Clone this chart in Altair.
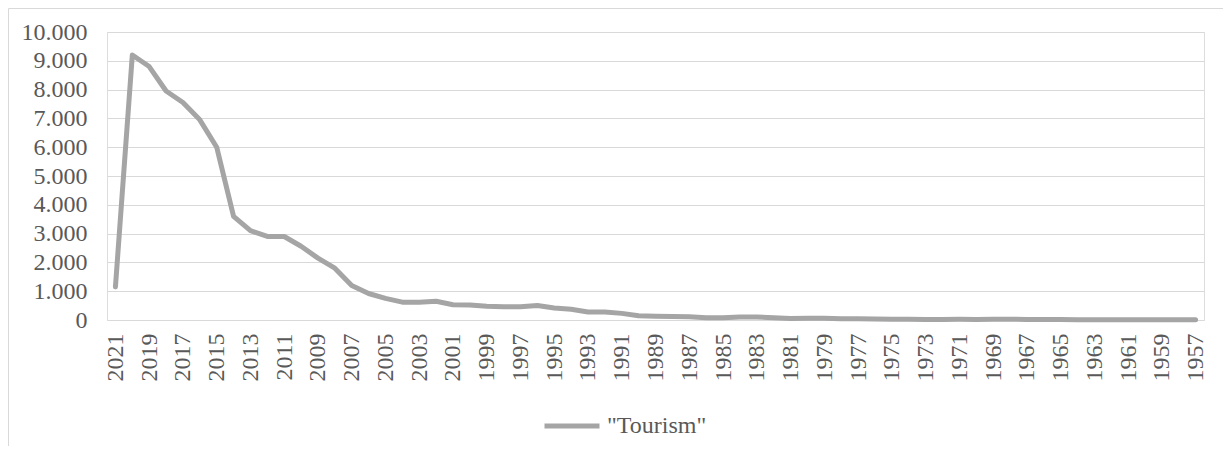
import altair as alt
import pandas as pd

years = [2021, 2020, 2019, 2018, 2017, 2016, 2015, 2014, 2013, 2012,
         2011, 2010, 2009, 2008, 2007, 2006, 2005, 2004, 2003, 2002,
         2001, 2000, 1999, 1998, 1997, 1996, 1995, 1994, 1993, 1992,
         1991, 1990, 1989, 1988, 1987, 1986, 1985, 1984, 1983, 1982,
         1981, 1980, 1979, 1978, 1977, 1976, 1975, 1974, 1973, 1972,
         1971, 1970, 1969, 1968, 1967, 1966, 1965, 1964, 1963, 1962,
         1961, 1960, 1959, 1958, 1957]
tourism = [1150, 9200, 8800, 7950, 7550, 6950, 6000, 3600, 3100, 2900,
           2900, 2560, 2150, 1800, 1200, 920, 750, 620, 620, 650,
           530, 520, 480, 460, 460, 500, 420, 370, 280, 280,
           230, 150, 130, 120, 110, 80, 80, 100, 100, 80,
           50, 60, 60, 40, 40, 35, 30, 30, 20, 20,
           25, 20, 25, 25, 20, 15, 15, 12, 12, 10,
           10, 8, 8, 5, 5]
series_name = '"Tourism"'
y_ticks = [0, 1000, 2000, 3000, 4000, 5000, 6000, 7000, 8000, 9000, 10000]

year_labels = [str(y) for y in years]
odd_labels = [str(y) for y in years if y % 2 == 1]

df = pd.DataFrame({"year": year_labels, "value": tourism, "series": series_name})

FONT = "Liberation Serif"
TXT = "#595959"
FS = 24

line = alt.Chart(df).mark_line(strokeWidth=5, strokeCap="round", strokeJoin="round").encode(
    x=alt.X("year:O", sort=year_labels,
            scale=alt.Scale(type="point", padding=0.5),
            axis=alt.Axis(title=None, values=odd_labels, labelAngle=-90,
                          labelFont=FONT, labelFontSize=FS, labelColor=TXT,
                          labelPadding=13, ticks=False, tickSize=0,
                          domain=False, grid=False, labelOverlap=False)),
    y=alt.Y("value:Q", scale=alt.Scale(domain=[0, 10000], nice=False),
            axis=alt.Axis(title=None, values=y_ticks,
                          labelExpr="replace(format(datum.value, ','), ',', '.')",
                          labelFont=FONT, labelFontSize=FS, labelColor=TXT,
                          labelPadding=20, ticks=False, tickSize=0, domain=False,
                          grid=True, gridColor="#d9d9d9", gridWidth=1)),
    color=alt.Color("series:N", scale=alt.Scale(range=["#a5a5a5"]),
                    legend=alt.Legend(title=None, orient="none", legendX=435, legendY=364,
                                      symbolType="stroke", symbolSize=3025,
                                      symbolStrokeWidth=5, labelFont=FONT,
                                      labelFontSize=FS, labelColor=TXT,
                                      labelOffset=5, padding=0)),
)

frame_df = pd.DataFrame({"a": [0]})
left_border = alt.Chart(frame_df).mark_rule(color="#d9d9d9", strokeWidth=1).encode(
    x=alt.value(-98.5), y=alt.value(-23.5), y2=alt.value(420))
top_border = alt.Chart(frame_df).mark_rule(color="#d9d9d9", strokeWidth=1).encode(
    x=alt.value(-98.5), x2=alt.value(1120), y=alt.value(-23.5))

chart = alt.layer(line, left_border, top_border).properties(
    width=1097, height=288,
    autosize=alt.AutoSizeParams(type="none"),
    padding={"left": 99, "top": 24, "right": 19, "bottom": 126},
).configure_view(stroke=None).configure(background="white")

chart.save("out.html", embed_options={"renderer": "svg", "actions": False})
